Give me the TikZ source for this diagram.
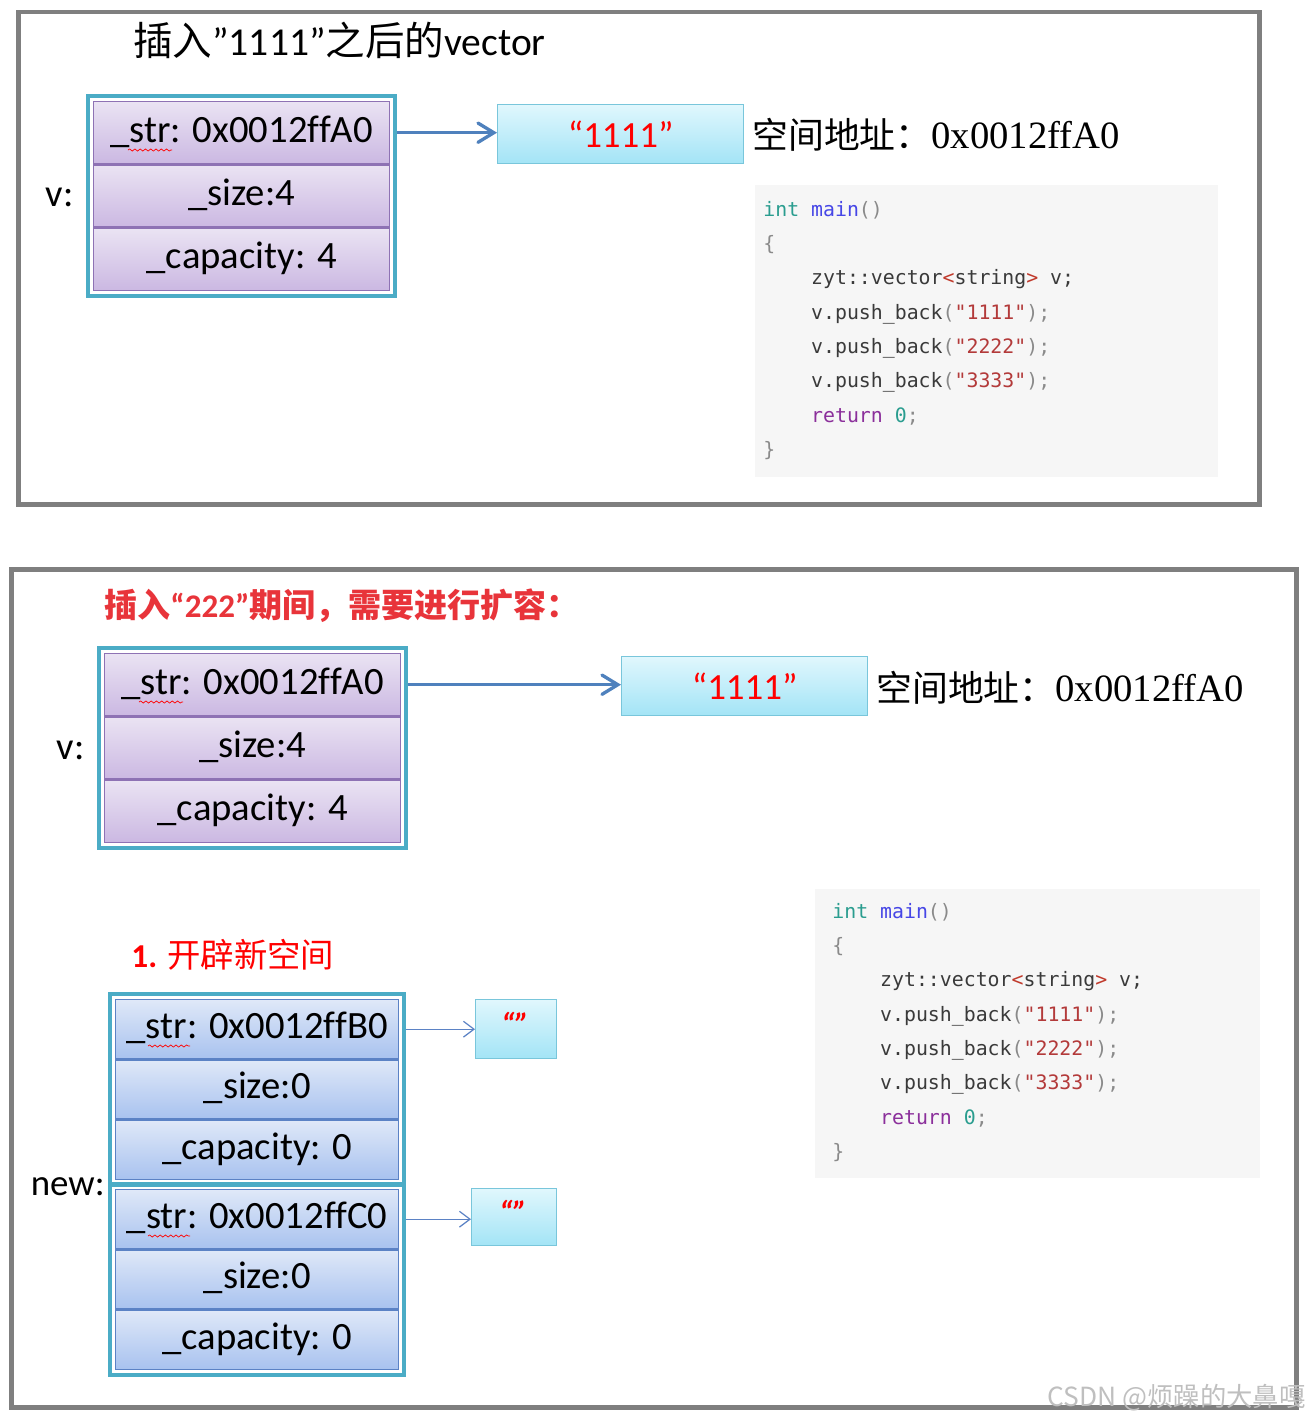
\documentclass[tikz,border=0pt]{standalone}
\usepackage{fontspec}
\setmainfont{Carlito}[Ligatures=CommonOff]
\newfontfamily\cjk{Noto Sans CJK SC}
\newfontfamily\codefont{DejaVu Sans Mono}
\newfontfamily\addrfont{Liberation Serif}
\usetikzlibrary{arrows.meta,positioning,fit,decorations.pathmorphing}

\definecolor{framegray}{HTML}{7F7F7F}
\definecolor{tealb}{HTML}{4BACC6}
\definecolor{lavline}{HTML}{8E72B4}
\definecolor{lavtop}{HTML}{EAE3F3}
\definecolor{lavbot}{HTML}{CBB8E2}
\definecolor{bluline}{HTML}{5B82C5}
\definecolor{blutop}{HTML}{DFE8F8}
\definecolor{blubot}{HTML}{A8C2EF}
\definecolor{cyanline}{HTML}{79C6DB}
\definecolor{cyantop}{HTML}{E0F7FD}
\definecolor{cyanbot}{HTML}{A3E4F6}
\definecolor{arrowblue}{HTML}{4F81BD}
\definecolor{titlered}{HTML}{E8343A}
\definecolor{codebg}{HTML}{F6F6F6}
\definecolor{ckw}{HTML}{2A9D8F}
\definecolor{cfn}{HTML}{4646E6}
\definecolor{cpun}{HTML}{8A8A8A}
\definecolor{ctxt}{HTML}{3A3A3A}
\definecolor{cstr}{HTML}{B33A3A}
\definecolor{cret}{HTML}{8B2F9B}
\definecolor{cangle}{HTML}{C0392B}

\newcommand{\vcode}{%
{\color{ckw}int} {\color{cfn}main}{\color{cpun}()}\\
{\color{cpun}\{}\\
\phantom{0000}{\color{ctxt}zyt::vector}{\color{cangle}<}{\color{ctxt}string}{\color{cangle}>} {\color{ctxt}v;}\\
\phantom{0000}{\color{ctxt}v.push\_back}{\color{cpun}(}{\color{cstr}"1111"}{\color{cpun});}\\
\phantom{0000}{\color{ctxt}v.push\_back}{\color{cpun}(}{\color{cstr}"2222"}{\color{cpun});}\\
\phantom{0000}{\color{ctxt}v.push\_back}{\color{cpun}(}{\color{cstr}"3333"}{\color{cpun});}\\
\phantom{0000}{\color{cret}return} {\color{ckw}0}{\color{cpun};}\\
{\color{cpun}\}}}

\begin{document}
\begin{tikzpicture}[x=0.02cm,y=-0.02cm,
  frame/.style={draw=framegray,line width=2.55pt},
  outer/.style={draw=tealb,line width=2.2pt,inner sep=2.8pt},
  lav/.style={draw=lavline,line width=0.8pt,top color=lavtop,bottom color=lavbot,
    minimum width=5.92cm,minimum height=1.24cm,inner sep=0pt,
    text height=1.28em,text depth=0.22em,font=\fontsize{22}{26}\selectfont},
  blu/.style={draw=bluline,line width=0.8pt,top color=blutop,bottom color=blubot,
    minimum width=5.66cm,minimum height=1.18cm,inner sep=0pt,
    text height=1.28em,text depth=0.22em,font=\fontsize{22}{26}\selectfont},
  cyanbox/.style={draw=cyanline,line width=0.8pt,top color=cyantop,bottom color=cyanbot,inner sep=0pt},
  bigarrow/.style={draw=arrowblue,line width=1.9pt,-{Straight Barb[length=9pt,width=11pt,line cap=round]}},
  thinarrow/.style={draw=bluline,line width=0.7pt,-{Straight Barb[length=6pt,width=9pt]}},
  wavy/.style={draw=red,line width=0.4pt,decorate,decoration={snake,amplitude=0.6pt,segment length=3pt}},
  codebox/.style={fill=codebg,inner sep=0pt,anchor=north west},
  codetext/.style={anchor=north west,align=left,inner sep=0pt,font=\codefont\fontsize{11.3}{19.5}\selectfont},
  addr/.style={anchor=west,inner sep=0pt}]

\useasboundingbox (0,0) rectangle (1311,1421);

% top panel
\draw[frame] (18.5,12) rectangle (1259.5,504.5);
\node[anchor=west,inner sep=0pt] (toptitle) at (133,40)
  {\fontsize{22.5}{26}\selectfont{\cjk 插入}”1111”{\cjk 之后的}vector};

\node[lav,anchor=north west] (vstr) at (93,101) {\_str: 0x0012ffA0};
\node[lav,anchor=north] (vsize) at (vstr.south) {\_size:4};
\node[lav,anchor=north] (vcap) at (vsize.south) {\_capacity: 4};
\node[outer,fit=(vstr)(vcap)] (vbox) {};
\draw[wavy] (128,150) -- (172,150);
\node[anchor=east,inner sep=0pt,font=\fontsize{22}{26}\selectfont] (vlabel) at (74,197) {v:};

\node[cyanbox,anchor=north west,minimum width=4.92cm,minimum height=1.18cm] (vs1111) at (497,104)
  {\fontsize{21}{24}\selectfont\color{red}“1111”};
\draw[bigarrow] (vbox.east |- vstr.east) -- (vs1111.west |- vstr.east);
\node[addr] (vaddr) at (752,135)
  {{\cjk\fontsize{20.4}{24}\selectfont 空间地址：}{\addrfont\fontsize{22}{24}\selectfont 0x0012ffA0}};

\node[codebox,minimum width=9.26cm,minimum height=5.84cm] (code1) at (755,185) {};
\node[codetext] (code1txt) at (763,201) {\vcode};

% bottom panel
\draw[frame] (11.5,569.5) rectangle (1296.5,1407.5);
\node[anchor=west,inner sep=0pt,text=titlered] (bottitle) at (104,606)
  {\fontsize{18.8}{22}\selectfont{\cjk\bfseries 插入}{\bfseries “222”}{\cjk\bfseries 期间，需要进行扩容：}};

\node[lav,anchor=north west] (wstr) at (104,653) {\_str: 0x0012ffA0};
\node[lav,anchor=north] (wsize) at (wstr.south) {\_size:4};
\node[lav,anchor=north] (wcap) at (wsize.south) {\_capacity: 4};
\node[outer,fit=(wstr)(wcap)] (wbox) {};
\draw[wavy] (139,702) -- (183,702);
\node[anchor=east,inner sep=0pt,font=\fontsize{22}{26}\selectfont] (wlabel) at (85,750) {v:};

\node[cyanbox,anchor=north west,minimum width=4.92cm,minimum height=1.18cm] (ws1111) at (621,656)
  {\fontsize{21}{24}\selectfont\color{red}“1111”};
\draw[bigarrow] (wbox.east |- wstr.east) -- (ws1111.west |- wstr.east);
\node[addr] (waddr) at (876,688)
  {{\cjk\fontsize{20.4}{24}\selectfont 空间地址：}{\addrfont\fontsize{22}{24}\selectfont 0x0012ffA0}};

\node[codebox,minimum width=8.9cm,minimum height=5.78cm] (code2) at (815,889) {};
\node[codetext] (code2txt) at (832,903) {\vcode};

\node[anchor=west,inner sep=0pt,text=red] (step1) at (131,955)
  {\fontsize{19}{22}\selectfont\bfseries 1. {\cjk\mdseries 开辟新空间}};

% new space
\node[blu,anchor=north west] (nstra) at (115,999) {\_str: 0x0012ffB0};
\node[blu,anchor=north] (nsizea) at (nstra.south) {\_size:0};
\node[blu,anchor=north] (ncapa) at (nsizea.south) {\_capacity: 0};
\node[outer,fit=(nstra)(ncapa)] (nboxa) {};
\draw[wavy] (148,1046) -- (190,1046);

\node[blu,anchor=north west] (nstrb) at (115,1189) {\_str: 0x0012ffC0};
\node[blu,anchor=north] (nsizeb) at (nstrb.south) {\_size:0};
\node[blu,anchor=north] (ncapb) at (nsizeb.south) {\_capacity: 0};
\node[outer,fit=(nstrb)(ncapb)] (nboxb) {};
\draw[wavy] (148,1236) -- (190,1236);

\node[anchor=east,inner sep=0pt,font=\fontsize{21}{26}\selectfont] (nlabel) at (105,1187) {new:};

\node[cyanbox,anchor=north west,minimum width=1.62cm,minimum height=1.18cm] (ea) at (475,999) {};
\node[cyanbox,anchor=north west,minimum width=1.7cm,minimum height=1.14cm] (eb) at (471,1188) {};
\node[inner sep=0pt,text=red,font=\fontsize{18}{18}\selectfont\bfseries\itshape] (eaq) at (515,1024) {“”};
\node[inner sep=0pt,text=red,font=\fontsize{18}{18}\selectfont\bfseries\itshape] (ebq) at (513,1212) {“”};
\draw[thinarrow] (nboxa.east |- nstra.east) -- (ea.west |- nstra.east);
\draw[thinarrow] (nboxb.east |- nstrb.east) -- (eb.west |- nstrb.east);

\node[anchor=east,inner sep=0pt,text=black!25] (mark) at (1306,1398)
  {\cjk\fontsize{15}{15}\selectfont CSDN @烦躁的大鼻嘎};

\end{tikzpicture}
\end{document}
